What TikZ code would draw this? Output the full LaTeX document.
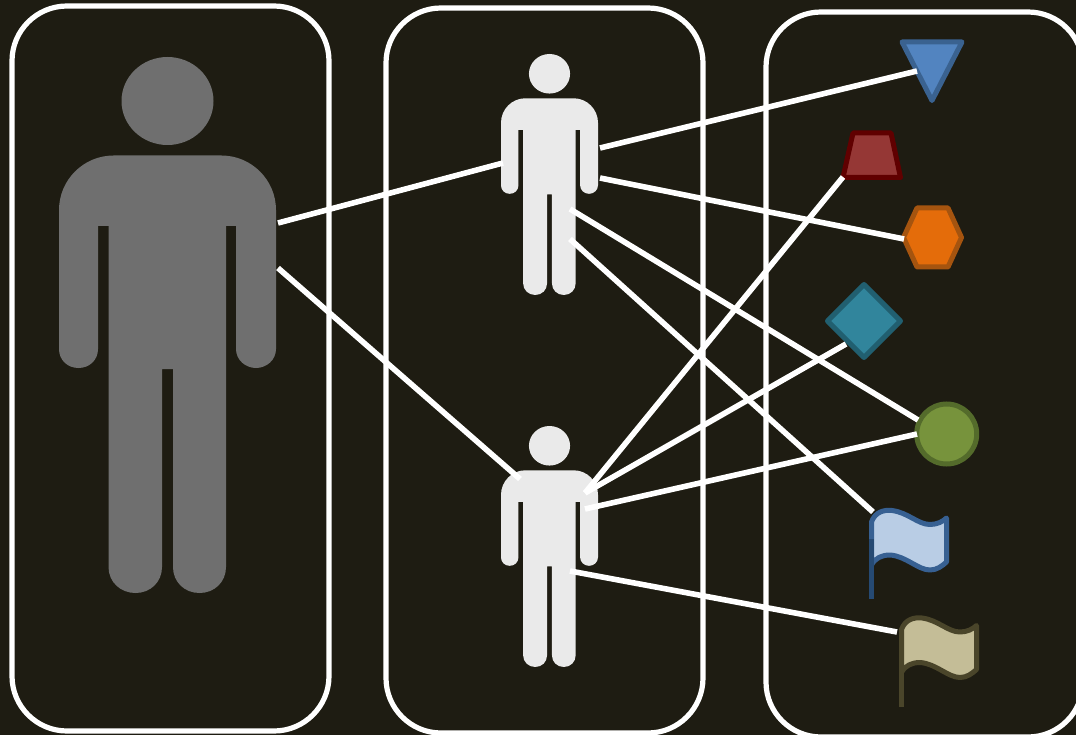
\documentclass[tikz,border=0pt]{standalone}
\definecolor{bgc}{HTML}{1E1C12}
\definecolor{figdim}{HTML}{6F6F6F}
\definecolor{figlight}{HTML}{EAEAEA}
\definecolor{triF}{HTML}{5284C0}\definecolor{triS}{HTML}{3A6290}
\definecolor{trapF}{HTML}{953735}\definecolor{trapS}{HTML}{600000}
\definecolor{hexF}{HTML}{E46C0A}\definecolor{hexS}{HTML}{A5540F}
\definecolor{diaF}{HTML}{31859C}\definecolor{diaS}{HTML}{215F70}
\definecolor{cirF}{HTML}{77933C}\definecolor{cirS}{HTML}{546B2B}
\definecolor{flagaF}{HTML}{B9CDE5}\definecolor{flagaS}{HTML}{376092}\definecolor{flagaP}{HTML}{264A73}
\definecolor{flagbF}{HTML}{C4BD97}\definecolor{flagbS}{HTML}{4A452A}\definecolor{flagbP}{HTML}{4A452A}
\tikzset{
  panel/.style={draw=white,line width=5.2pt,fill=bgc,rounded corners=55pt,minimum width=317pt,minimum height=725pt,inner sep=0pt,outer sep=0pt},
  link/.style={draw=white,line width=5.6pt},
  shapeline/.style={line width=5pt,line join=round},
  pics/person/.style={code={
    \fill[#1] (0,44) ellipse[x radius=46,y radius=44];
    \fill[#1] (-108.5,153) .. controls (-108.5,123) and (-84,98.5) .. (-54,98.5)
      -- (54,98.5) .. controls (84,98.5) and (108.5,123) .. (108.5,153)
      -- (108.5,292) .. controls (108.5,303) and (99,311) .. (88.5,311)
      .. controls (78,311) and (68.5,303) .. (68.5,292)
      -- (68.5,169) -- (58.5,169) -- (58.5,510)
      .. controls (58.5,525) and (47,536) .. (32,536)
      .. controls (17,536) and (5.5,525) .. (5.5,510)
      -- (5.5,312) -- (-5.5,312) -- (-5.5,510)
      .. controls (-5.5,525) and (-17,536) .. (-32,536)
      .. controls (-47,536) and (-59,525) .. (-59,510)
      -- (-59,169) -- (-69.5,169) -- (-69.5,292)
      .. controls (-69.5,303) and (-78,311) .. (-89,311)
      .. controls (-100,311) and (-108.5,303) .. (-108.5,292) -- cycle;
  }},
  pics/flag/.style n args={3}{code={
    \draw[shapeline,draw=#2,fill=#1] (871.5,522) .. controls (875,512) and (884,509.5) .. (892,510.5)
      .. controls (908,512.5) and (918,524.5) .. (930,524.5)
      .. controls (937,524.5) and (943,521.5) .. (946.5,518) -- (946.5,562)
      .. controls (942,566) and (937,570) .. (930,570)
      .. controls (918,570) and (906,556) .. (890,555)
      .. controls (882,555) and (875,558) .. (871.5,565) -- cycle;
    \draw[#3,line width=5pt] (871.5,539) -- (871.5,599);
  }}
}
\begin{document}
\begin{tikzpicture}[x=1pt,y=-1pt]
\useasboundingbox (0,0) rectangle (1076,735);
\clip (0,0) rectangle (1076,735);
\fill[bgc] (0,0) rectangle (1076,735);
% panels
\node[panel] (panelA) at (170.5,368.5) {};
\node[panel] (panelB) at (544.5,370.5) {};
\node[panel] (panelC) at (924.5,374.5) {};
% people
\pic (bigman) at (167.5,57) {person={figdim}};
\pic[xscale=0.447,yscale=0.4496] (topman) at (549.5,54) {person={figlight}};
\pic[xscale=0.447,yscale=0.4496] (lowman) at (549.5,426) {person={figlight}};
% right-hand shapes
\draw[shapeline,draw=triS,fill=triF] (902,42) -- (962,42) -- (932,100.5) -- cycle;
\draw[shapeline,draw=trapS,fill=trapF] (853,133) -- (891,133) -- (900.5,177.5) -- (843,177.5) -- cycle;
\draw[shapeline,draw=hexS,fill=hexF] (903.5,237.5) -- (917,208) -- (948,208) -- (961.5,237.5) -- (948,267) -- (917,267) -- cycle;
\draw[shapeline,draw=diaS,fill=diaF] (864,284.5) -- (900.5,321) -- (864,357.5) -- (827.5,321) -- cycle;
\draw[line width=5pt,draw=cirS,fill=cirF] (946.7,434) circle[radius=30];
\pic (flagA) at (0,0) {flag={flagaF}{flagaS}{flagaP}};
\pic (flagB) at (30,107.5) {flag={flagbF}{flagbS}{flagbP}};
% connector ends
\coordinate (a1) at (278,223);  \coordinate (a2) at (278,268);
\coordinate (b1) at (503,163);  \coordinate (b2) at (520,479);
\coordinate (c1) at (600,148);  \coordinate (c2) at (600,178);
\coordinate (c3) at (570,209);  \coordinate (c4) at (570,239);
\coordinate (d1) at (585,493);  \coordinate (d2) at (585,509);
\coordinate (d3) at (570,571);
\coordinate (tri) at (917,71);  \coordinate (trap) at (843,177);
\coordinate (hex) at (904,239); \coordinate (dia) at (846,344);
\coordinate (cirA) at (918,420);\coordinate (cirB) at (917,434);
\coordinate (flagAend) at (873,512); \coordinate (flagBend) at (897,632);
% connectors
\draw[link] (a1) -- (b1);
\draw[link] (a2) -- (b2);
\draw[link] (c1) -- (tri);
\draw[link] (c2) -- (hex);
\draw[link] (c3) -- (cirA);
\draw[link] (c4) -- (flagAend);
\draw[link] (d1) -- (trap);
\draw[link] (d1) -- (dia);
\draw[link] (d2) -- (cirB);
\draw[link] (d3) -- (flagBend);
\end{tikzpicture}
\end{document}
